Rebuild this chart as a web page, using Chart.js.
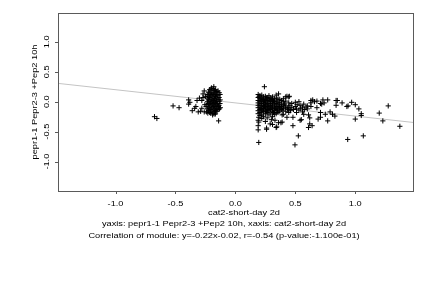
<!DOCTYPE html>
<html>
<head>
<meta charset="utf-8">
<script src="https://cdn.jsdelivr.net/npm/chart.js@4"></script>
<style>
  html, body { margin: 0; padding: 0; background: #fff; }
  canvas { display: block; }
</style>
</head>
<body>
<canvas id="c" width="432" height="288"></canvas>
<script>
/* ── Data ────────────────────────────────────────────────── */
const X_TICKS = [-1.0, -0.5, 0.0, 0.5, 1.0];
const Y_TICKS = [-1.0, -0.5, 0.0, 0.5, 1.0];
const X_RANGE = [-1.48, 1.49];
const Y_RANGE = [-1.49, 1.48];

const X_TITLE = 'cat2-short-day 2d';
const Y_TITLE = 'pepr1-1 Pepr2-3 +Pep2 10h';
const SUB_1   = 'yaxis: pepr1-1 Pepr2-3 +Pep2 10h, xaxis: cat2-short-day 2d';
const SUB_2   = 'Correlation of module: y=-0.22x-0.02, r=-0.54 (p-value:-1.100e-01)';

/* fit line y = a*x + b (from the caption) */
const FIT_SLOPE     = -0.22;
const FIT_INTERCEPT = -0.02;

/* cluster left of zero */
const PTS_LEFT = [
  [-0.675,-0.25],[-0.655,-0.28],[-0.52,-0.07],[-0.47,-0.10],
  [-0.39,0.03],[-0.39,-0.04],[-0.38,-0.01],[-0.34,-0.11],[-0.32,0.02],[-0.31,-0.17],
  [-0.30,0.06],[-0.29,-0.16],[-0.28,0.02],[-0.27,0.07],[-0.26,-0.17],[-0.26,0.18],
  [-0.255,-0.05],[-0.245,-0.08],[-0.25,0.09],[-0.24,-0.17],[-0.23,-0.19],[-0.18,0.25],
  [-0.20,0.23],[-0.14,-0.32],[-0.17,-0.21],[-0.19,-0.22],[-0.33,-0.08],[-0.36,-0.15],
  [-0.28,-0.11],[-0.27,0.13],
  [-0.235,0.12],[-0.236,0.06],[-0.233,0.00],[-0.237,-0.05],[-0.234,-0.12],
  [-0.225,0.16],[-0.226,0.09],[-0.224,0.03],[-0.227,-0.03],[-0.223,-0.09],[-0.225,-0.15],
  [-0.215,0.20],[-0.214,0.13],[-0.216,0.07],[-0.213,0.01],[-0.217,-0.05],[-0.214,-0.11],[-0.215,-0.18],
  [-0.205,0.21],[-0.204,0.15],[-0.206,0.10],[-0.203,0.04],[-0.207,-0.02],[-0.204,-0.07],[-0.205,-0.13],[-0.206,-0.19],
  [-0.195,0.18],[-0.196,0.12],[-0.194,0.06],[-0.197,0.00],[-0.193,-0.04],[-0.196,-0.10],[-0.195,-0.16],
  [-0.185,0.22],[-0.184,0.14],[-0.186,0.08],[-0.183,0.02],[-0.187,-0.03],[-0.184,-0.08],[-0.185,-0.14],[-0.186,-0.20],
  [-0.175,0.19],[-0.176,0.11],[-0.174,0.05],[-0.177,-0.01],[-0.173,-0.06],[-0.176,-0.12],[-0.175,-0.17],
  [-0.165,0.20],[-0.164,0.15],[-0.166,0.09],[-0.163,0.03],[-0.167,-0.02],[-0.164,-0.09],[-0.165,-0.15],[-0.166,-0.19],
  [-0.155,0.17],[-0.156,0.12],[-0.154,0.06],[-0.157,0.00],[-0.153,-0.05],[-0.156,-0.11],[-0.155,-0.16],
  [-0.145,0.18],[-0.146,0.10],[-0.144,0.04],[-0.147,-0.03],[-0.143,-0.08],[-0.145,-0.13],
  [-0.135,0.15],[-0.136,0.07],[-0.134,0.01],[-0.137,-0.06],[-0.133,-0.12],
  [-0.128,0.12],[-0.127,0.03],[-0.129,-0.03],[-0.126,-0.10],
];

/* cluster right of zero */
const PTS_RIGHT = [
  [0.19,0.12],[0.19,0.07],[0.19,0.02],[0.19,-0.02],[0.19,-0.06],[0.19,-0.10],[0.19,-0.15],
  [0.19,-0.20],[0.195,-0.26],[0.19,-0.31],[0.195,-0.34],[0.19,-0.40],[0.19,-0.47],[0.195,-0.68],
  [0.205,0.10],[0.205,0.05],[0.205,0.00],[0.205,-0.04],[0.205,-0.09],[0.205,-0.13],[0.205,-0.18],[0.205,-0.23],
  [0.22,0.11],[0.22,0.06],[0.22,0.01],[0.22,-0.03],[0.22,-0.07],[0.22,-0.12],[0.22,-0.17],[0.22,-0.22],[0.22,-0.28],
  [0.235,0.08],[0.235,0.03],[0.235,-0.02],[0.235,-0.06],[0.235,-0.11],[0.235,-0.16],[0.235,-0.25],
  [0.242,0.25],[0.25,0.09],[0.25,0.04],[0.25,-0.01],[0.25,-0.05],[0.25,-0.10],[0.25,-0.14],[0.25,-0.20],[0.25,-0.33],[0.26,-0.44],
  [0.265,0.07],[0.265,0.02],[0.265,-0.03],[0.265,-0.08],[0.265,-0.13],[0.265,-0.18],[0.265,-0.27],[0.26,-0.46],
  [0.28,0.10],[0.28,0.05],[0.28,0.00],[0.28,-0.04],[0.28,-0.09],[0.28,-0.15],[0.28,-0.22],[0.29,-0.37],
  [0.295,0.06],[0.295,0.01],[0.295,-0.03],[0.295,-0.07],[0.295,-0.12],[0.295,-0.19],[0.30,-0.30],
  [0.31,0.08],[0.31,0.03],[0.31,-0.02],[0.31,-0.06],[0.31,-0.11],[0.31,-0.16],[0.31,-0.25],[0.31,-0.38],
  [0.325,0.05],[0.325,0.00],[0.325,-0.05],[0.325,-0.09],[0.325,-0.14],[0.325,-0.21],[0.33,-0.31],
  [0.34,0.11],[0.345,0.06],[0.34,0.01],[0.34,-0.03],[0.34,-0.08],[0.34,-0.13],[0.34,-0.20],[0.34,-0.43],[0.345,-0.42],
  [0.36,0.13],[0.355,0.03],[0.355,-0.02],[0.355,-0.07],[0.355,-0.12],[0.355,-0.18],[0.36,-0.35],
  [0.37,0.04],[0.37,-0.01],[0.37,-0.05],[0.37,-0.10],[0.37,-0.16],[0.38,-0.35],
  [0.385,0.02],[0.385,-0.04],[0.385,-0.08],[0.385,-0.13],[0.39,-0.22],[0.39,-0.34],
  [0.40,0.05],[0.40,0.00],[0.40,-0.06],[0.40,-0.11],[0.40,-0.21],
  [0.42,0.08],[0.43,0.09],[0.42,0.01],[0.42,-0.07],[0.42,-0.10],[0.42,-0.16],[0.43,-0.26],
  [0.445,0.08],[0.45,0.09],[0.445,-0.02],[0.445,-0.09],[0.445,-0.13],[0.445,-0.18],
  [0.47,-0.03],[0.47,-0.10],[0.46,-0.15],[0.48,-0.26],[0.48,-0.40],
  [0.50,-0.01],[0.50,-0.08],[0.51,-0.12],[0.51,-0.18],[0.497,-0.72],[0.525,-0.57],
  [0.53,0.00],[0.54,-0.06],[0.53,-0.14],[0.54,-0.31],[0.55,-0.30],
  [0.57,-0.04],[0.56,-0.09],[0.57,-0.21],[0.56,-0.17],
  [0.60,-0.07],[0.60,-0.12],[0.61,-0.22],[0.61,-0.43],[0.62,-0.37],[0.64,-0.40],
  [0.63,-0.02],[0.645,0.03],[0.66,0.00],[0.63,-0.08],[0.62,-0.27],[0.63,0.02],
  [0.68,-0.10],[0.69,-0.29],[0.71,-0.18],[0.71,-0.26],[0.72,-0.04],[0.74,-0.02],
  [0.68,0.01],[0.71,-0.03],[0.73,0.03],[0.75,-0.21],[0.77,-0.32],[0.77,0.03],
  [0.79,-0.17],[0.81,-0.21],[0.83,-0.24],[0.84,0.02],[0.85,0.02],[0.84,-0.06],
  [0.89,-0.02],[0.93,-0.08],[0.94,-0.07],[0.97,-0.01],[1.00,-0.05],[1.03,-0.12],
  [1.00,-0.29],[1.05,-0.20],[1.05,-0.23],[0.937,-0.63],[1.067,-0.57],
  [1.20,-0.19],[1.23,-0.32],[1.275,-0.07],[1.372,-0.41],
  /* extra points filling the dense core and its tail */
  [0.198,0.09],[0.213,-0.11],[0.228,0.04],[0.243,-0.08],[0.258,0.06],[0.273,-0.06],
  [0.288,0.03],[0.303,-0.09],[0.318,0.01],[0.333,-0.11],[0.213,0.03],[0.243,0.01],
  [0.273,-0.11],[0.303,0.04],[0.228,-0.14],[0.258,-0.16],[0.288,-0.13],[0.318,-0.18],
  [0.35,-0.15],[0.365,-0.08],[0.38,-0.11],[0.395,-0.14],[0.41,-0.04],[0.435,-0.12],
  [0.455,-0.06],[0.485,-0.13],[0.515,-0.05],[0.545,-0.11],[0.575,-0.13],[0.59,-0.09],
];

/* ── Styling ────────────────────────────────────────────── */
const FONT     = '7px "Liberation Sans", Arial, sans-serif';
const STRETCH  = 1.32;   // reference glyphs are wide and short
const FRAME    = '#5a5a5a';

function texte(ctx, s, x, y, rot) {
  ctx.save();
  ctx.translate(x, y);
  if (rot) ctx.rotate(rot);
  ctx.scale(STRETCH, 1);
  ctx.fillText(s, 0, 0);
  ctx.restore();
}

/* frame, ticks and all the text, placed with the chart's scales */
const cadre = {
  id: 'cadre',
  afterDraw(chart) {
    const { ctx, chartArea: a, scales } = chart;
    const sx = scales.x, sy = scales.y;
    ctx.save();
    ctx.strokeStyle = FRAME;
    ctx.lineWidth = 1;
    ctx.strokeRect(Math.round(a.left) + 0.5, Math.round(a.top) + 0.5,
                   Math.round(a.right - a.left) - 1, Math.round(a.bottom - a.top));

    ctx.beginPath();
    X_TICKS.forEach(v => {
      const px = Math.round(sx.getPixelForValue(v)) + 0.5;
      ctx.moveTo(px, Math.round(a.bottom)); ctx.lineTo(px, Math.round(a.bottom) + 3);
    });
    Y_TICKS.forEach(v => {
      const py = Math.round(sy.getPixelForValue(v)) + 0.5;
      ctx.moveTo(Math.round(a.left) - 3, py); ctx.lineTo(Math.round(a.left), py);
    });
    ctx.stroke();

    ctx.fillStyle = '#000';
    ctx.font = FONT;
    ctx.textAlign = 'center';
    ctx.textBaseline = 'middle';
    X_TICKS.forEach(v => texte(ctx, v.toFixed(1), sx.getPixelForValue(v), 204, 0));
    Y_TICKS.forEach(v => texte(ctx, v.toFixed(1), 47, sy.getPixelForValue(v), -Math.PI / 2));

    const cy = (a.top + a.bottom) / 2;
    texte(ctx, Y_TITLE, 35, cy, -Math.PI / 2);
    texte(ctx, X_TITLE, 244, 213, 0);
    texte(ctx, SUB_1, 224, 224, 0);
    texte(ctx, SUB_2, 224, 236, 0);
    ctx.restore();
  },
};

new Chart(document.getElementById('c'), {
  type: 'scatter',
  data: {
    datasets: [
      {
        type: 'line',
        data: X_RANGE.map(x => ({ x, y: FIT_SLOPE * x + FIT_INTERCEPT })),
        borderColor: '#c4c4c4',
        borderWidth: 1,
        pointRadius: 0,
        order: 2,
      },
      {
        data: PTS_LEFT.concat(PTS_RIGHT).map(([x, y]) => ({ x, y })),
        pointStyle: 'cross',
        pointRadius: 2.6,
        borderColor: '#000',
        borderWidth: 1,
        order: 1,
      },
    ],
  },
  options: {
    responsive: false,
    devicePixelRatio: 1,
    animation: false,
    layout: { padding: { left: 58, right: 18, top: 13, bottom: 97 } },
    plugins: { legend: { display: false }, tooltip: { enabled: false } },
    scales: {
      x: { type: 'linear', min: X_RANGE[0], max: X_RANGE[1], display: false },
      y: { type: 'linear', min: Y_RANGE[0], max: Y_RANGE[1], display: false },
    },
  },
  plugins: [cadre],
});
</script>
</body>
</html>
